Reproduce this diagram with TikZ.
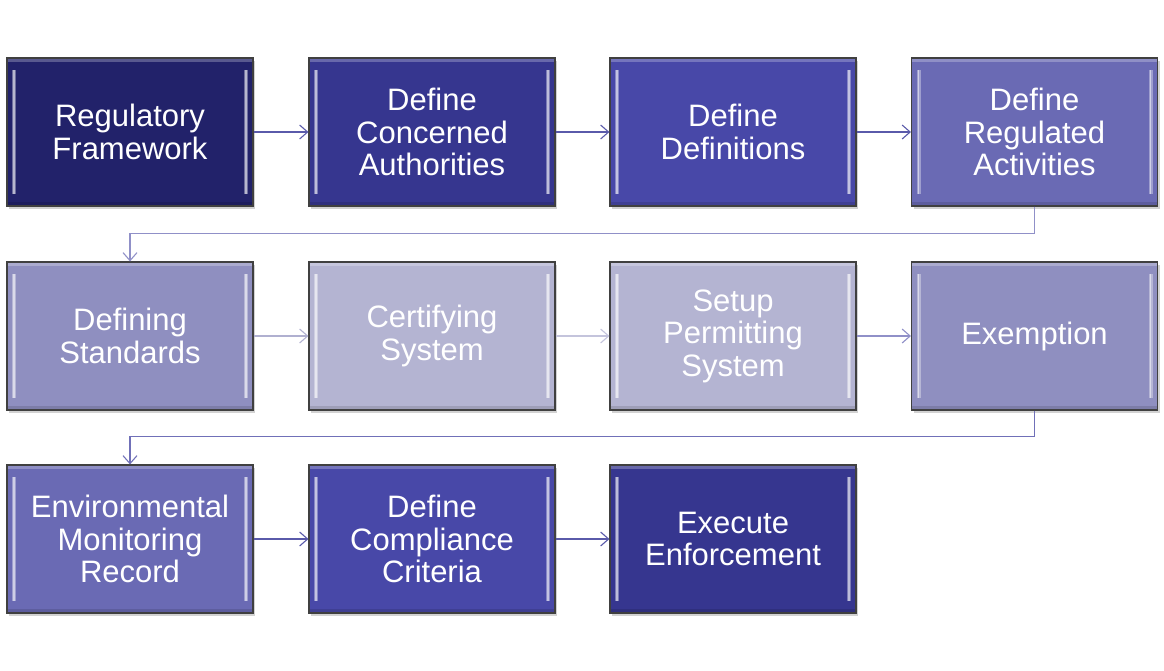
\documentclass[tikz,border=0pt]{standalone}
\usepackage{fontspec}
\setmainfont{Liberation Sans}
\usetikzlibrary{shadows,arrows.meta}
\definecolor{c1}{HTML}{22226A}
\definecolor{c2}{HTML}{36368F}
\definecolor{c3}{HTML}{4848A8}
\definecolor{c4}{HTML}{6A6AB4}
\definecolor{c5}{HTML}{8F8FC0}
\definecolor{c6}{HTML}{B4B4D2}
\definecolor{a1}{HTML}{5A5AAA}
\definecolor{a2}{HTML}{9090C8}
\definecolor{a3}{HTML}{B0B0D0}
\definecolor{a4}{HTML}{C4C4DC}
\definecolor{a5}{HTML}{7070B8}
\tikzset{
  stepbox/.style={draw=black!75, line width=1.1pt, minimum width=246pt, minimum height=148pt,
    inner sep=0pt, text=white, align=center, font=\fontsize{31}{32.5}\selectfont,
    drop shadow={shadow xshift=2pt, shadow yshift=-2.5pt, opacity=0.35},
    path picture={
      \fill[white,opacity=0.25] (path picture bounding box.north west) rectangle ([yshift=-4pt]path picture bounding box.north east);
      \fill[black,opacity=0.12] (path picture bounding box.south west) rectangle ([yshift=4pt]path picture bounding box.south east);
      \draw[white,opacity=0.35,line width=4pt] ([xshift=7pt,yshift=-12pt]path picture bounding box.north west) -- ([xshift=7pt,yshift=12pt]path picture bounding box.south west);
      \draw[white,opacity=0.35,line width=4pt] ([xshift=-7pt,yshift=-12pt]path picture bounding box.north east) -- ([xshift=-7pt,yshift=12pt]path picture bounding box.south east);
      \draw[white,opacity=0.5,line width=1.5pt] ([xshift=7pt,yshift=-12pt]path picture bounding box.north west) -- ([xshift=7pt,yshift=12pt]path picture bounding box.south west);
      \draw[white,opacity=0.5,line width=1.5pt] ([xshift=-7pt,yshift=-12pt]path picture bounding box.north east) -- ([xshift=-7pt,yshift=12pt]path picture bounding box.south east);
    }},
  flow/.style={line width=1.1pt, -{Straight Barb[length=8pt,width=14pt,line width=1.1pt]}}
}
\begin{document}
\begin{tikzpicture}[x=1pt,y=-1pt]
\useasboundingbox[fill=white] (0,0) rectangle (1164,670);
\node[stepbox, fill=c1] (n1) at (130,132) {Regulatory\\Framework};
\node[stepbox, fill=c2] (n2) at (432,132) {Define\\Concerned\\Authorities};
\node[stepbox, fill=c3] (n3) at (733,132) {Define\\Definitions};
\node[stepbox, fill=c4] (n4) at (1034.5,132) {Define\\Regulated\\Activities};
\node[stepbox, fill=c5] (n5) at (130,336) {Defining\\Standards};
\node[stepbox, fill=c6] (n6) at (432,336) {Certifying\\System};
\node[stepbox, fill=c6] (n7) at (733,336) {Setup\\Permitting\\System};
\node[stepbox, fill=c5] (n8) at (1034.5,336) {Exemption};
\node[stepbox, fill=c4] (n9) at (130,539) {Environmental\\Monitoring\\Record};
\node[stepbox, fill=c3] (n10) at (432,539) {Define\\Compliance\\Criteria};
\node[stepbox, fill=c2] (n11) at (733,539) {Execute\\Enforcement};
\draw[flow, a1] (n1) -- (n2);
\draw[flow, a1] (n2) -- (n3);
\draw[flow, a1] (n3) -- (n4);
\draw[flow, a2] (n4.south) -- ++(0,27) -| (n5.north);
\draw[flow, a3] (n5) -- (n6);
\draw[flow, a4] (n6) -- (n7);
\draw[flow, a2] (n7) -- (n8);
\draw[flow, a5] (n8.south) -- ++(0,26) -| (n9.north);
\draw[flow, a1] (n9) -- (n10);
\draw[flow, a1] (n10) -- (n11);
\end{tikzpicture}
\end{document}
